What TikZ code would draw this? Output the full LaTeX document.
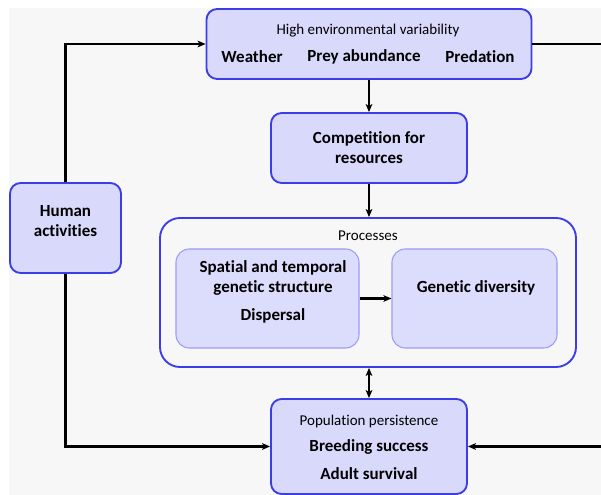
\documentclass[tikz,border=0pt]{standalone}
\usepackage{fontspec}
\setmainfont{Carlito}[Ligatures={NoCommon}]
\usetikzlibrary{arrows.meta}

\definecolor{bgcol}{HTML}{F7F7F7}
\definecolor{boxfill}{HTML}{D9D9FB}
\definecolor{boxline}{HTML}{3C3CE8}
\definecolor{subfill}{HTML}{DCDCFC}
\definecolor{subline}{HTML}{9C9CF2}

\newcommand{\bigbf}{\fontsize{12.75}{15}\selectfont\bfseries}
\newcommand{\smallrm}{\fontsize{11.25}{14}\selectfont}

\tikzset{
	box/.style={draw=boxline, fill=boxfill, line width=1.4pt, rounded corners=8pt, inner sep=0pt},
	subbox/.style={draw=subline, fill=subfill, line width=0.8pt, rounded corners=10pt, inner sep=0pt},
	boldtxt/.style={font=\bigbf, align=center, inner sep=0pt},
	headtxt/.style={font=\smallrm, inner sep=0pt},
	link/.style={line width=1.7pt, ->},
}

\begin{document}
\begin{tikzpicture}[x=0.75pt, y=-0.75pt, >={Stealth[length=6pt, width=5pt, inset=1.5pt]}]
	\useasboundingbox (0,0) rectangle (601,495);
	\fill[bgcol] (9,8) rectangle (601,495);
	% boxes
	\node[box, minimum width=243.75pt, minimum height=52.5pt] (env) at (369,44) {};
	\node[box, minimum width=147pt, minimum height=52.5pt, boldtxt] (comp) at (369,148) {Competition for\\resources};
	\node[box, minimum width=83.25pt, minimum height=67.5pt] (human) at (65.5,228) {};
	\node[box, fill=bgcol, rounded corners=15pt, minimum width=312pt, minimum height=111.75pt] (proc) at (368,292.5) {};
	\node[subbox, minimum width=137.25pt, minimum height=74.25pt] (spat) at (267.5,298.5) {};
	\node[subbox, minimum width=123.75pt, minimum height=74.25pt] (gen) at (474.5,298.5) {};
	\node[box, minimum width=147pt, minimum height=71.25pt] (pop) at (369,446.5) {};
	% texts
	\node[headtxt] (envhead) at (368,31) {High environmental variability};
	\node[boldtxt] (weather) at (252,57) {Weather};
	\node[boldtxt] (prey) at (364,57) {Prey abundance};
	\node[boldtxt] (predation) at (480,57) {Predation};
	\node[boldtxt] (humantxt) at (65.5,221.5) {Human\\activities};
	\node[headtxt] (prochead) at (368,236) {Processes};
	\node[boldtxt] (spattxt) at (273,278) {Spatial and temporal\\genetic structure};
	\node[boldtxt] (disptxt) at (273,316) {Dispersal};
	\node[boldtxt] (gentxt) at (476,288) {Genetic diversity};
	\node[headtxt] (pophead) at (369,422) {Population persistence};
	\node[boldtxt] (breed) at (369,447) {Breeding success};
	\node[boldtxt] (adult) at (369,474) {Adult survival};
	% connectors
	\coordinate (offright) at (640,300);
	\draw[link] (human.north) |- (env.west);
	\draw[link] (env.east) -| (offright) |- (pop.east);
	\draw[link] (human.south) |- (pop.west);
	\draw[link] (env.south) -- (comp.north);
	\draw[link] (comp.south) -- (comp.south |- proc.north);
	\draw[link] (spat.east) -- (gen.west);
	\draw[link, <->] (proc.south -| pop.north) -- (pop.north);
\end{tikzpicture}
\end{document}
